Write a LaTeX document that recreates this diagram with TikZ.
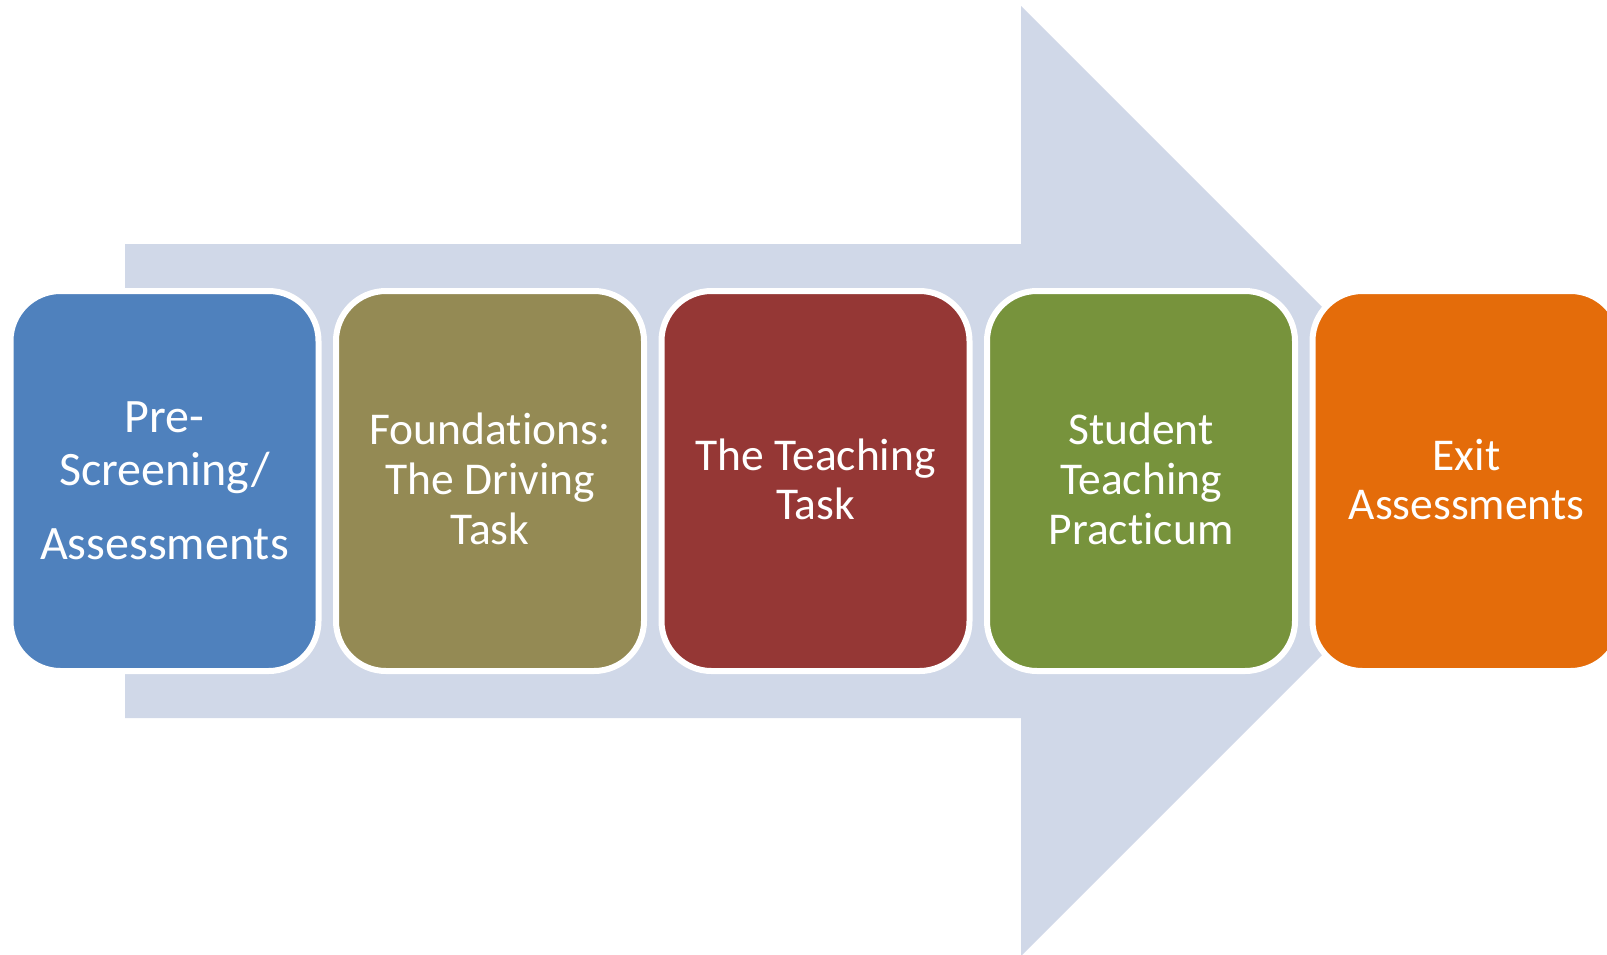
\documentclass[tikz,border=0pt]{standalone}
\usepackage{fontspec}
\setmainfont{Carlito}[Ligatures=NoCommon]
\definecolor{arrowfill}{HTML}{D0D8E8}
\definecolor{cblue}{HTML}{4F81BD}
\definecolor{colive}{HTML}{948A54}
\definecolor{cred}{HTML}{953735}
\definecolor{cgreen}{HTML}{77933C}
\definecolor{corange}{HTML}{E46C0A}
\tikzset{
  stagebox/.style={draw=white, line width=6pt, rounded corners=50pt, minimum width=308pt, minimum height=380pt, inner sep=0pt, fill=#1},
  lbl/.style={anchor=base, text=white, inner sep=0pt, font=\fontsize{45.5}{50}\selectfont},
  lblbig/.style={anchor=base, text=white, inner sep=0pt, font=\fontsize{48}{52}\selectfont}
}
\begin{document}
\begin{tikzpicture}[x=1pt,y=-1pt]
\useasboundingbox (0,0) rectangle (1607,954);
\clip (0,0) rectangle (1607,954);
% big arrow
\fill[arrowfill] (125,244) -- (1021,244) -- (1021,6) -- (1496,481) -- (1021,956) -- (1021,718) -- (125,718) -- cycle;
% boxes
\node[stagebox=cblue]   (b1) at (164.5,481) {};
\node[stagebox=colive]  (b2) at (490,481) {};
\node[stagebox=cred]    (b3) at (815.5,481) {};
\node[stagebox=cgreen]  (b4) at (1141,481) {};
\node[stagebox=corange] (b5) at (1466.5,481) {};
% labels
\node[lblbig] (t1a) at (164.5,432) {Pre-};
\node[lblbig] (t1b) at (164.5,485) {Screening/};
\node[lblbig] (t1c) at (164.5,559) {Assessments};
\node[lbl] (t2a) at (490,444.5) {Foundations:};
\node[lbl] (t2b) at (490,494.5) {The Driving};
\node[lbl] (t2c) at (490,544.5) {Task};
\node[lbl] (t3a) at (815.5,470.5) {The Teaching};
\node[lbl] (t3b) at (815.5,519.5) {Task};
\node[lbl] (t4a) at (1141,444.5) {Student};
\node[lbl] (t4b) at (1141,494.5) {Teaching};
\node[lbl] (t4c) at (1141,544.5) {Practicum};
\node[lbl] (t5a) at (1466.5,470.5) {Exit};
\node[lbl] (t5b) at (1466.5,519.5) {Assessments};
\end{tikzpicture}
\end{document}
